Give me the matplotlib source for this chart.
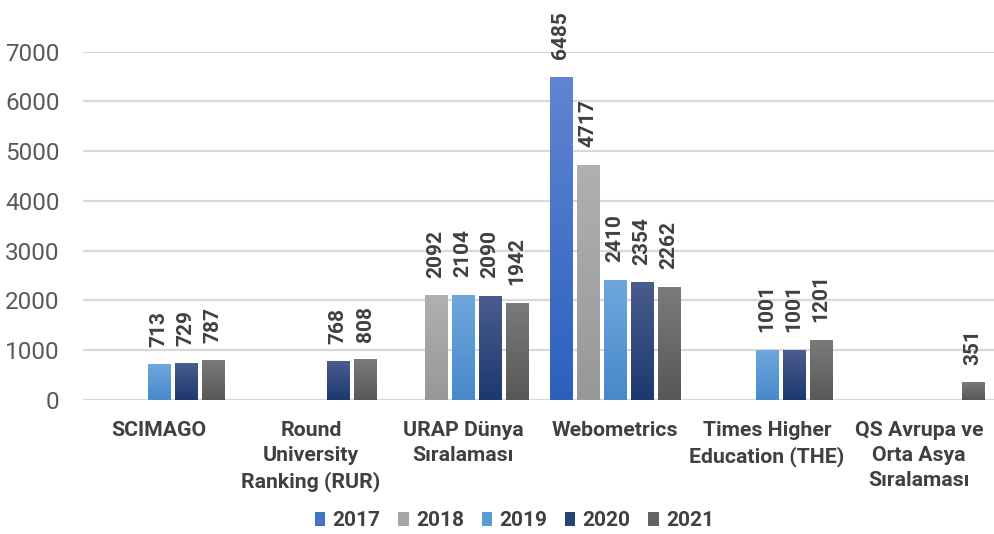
import numpy as np
import matplotlib.pyplot as plt
from matplotlib.colors import LinearSegmentedColormap
from matplotlib.patches import Patch

categories = ["SCIMAGO", "Round\nUniversity\nRanking (RUR)", "URAP Dünya\nSıralaması",
              "Webometrics", "Times Higher\nEducation (THE)", "QS Avrupa ve\nOrta Asya\nSıralaması"]
years = ["2017", "2018", "2019", "2020", "2021"]
nan = np.nan
v2017 = [nan, nan, nan, 6485, nan, nan]
v2018 = [nan, nan, 2092, 4717, nan, nan]
v2019 = [713, nan, 2104, 2410, 1001, nan]
v2020 = [729, 768, 2090, 2354, 1001, nan]
v2021 = [787, 808, 1942, 2262, 1201, 351]
series = [v2017, v2018, v2019, v2020, v2021]

# top / bottom colour of each series gradient
grad = [("#5f85d2", "#2d60be"),
        ("#b0b0b0", "#989898"),
        ("#6ea7de", "#4889ca"),
        ("#4a5c8c", "#1d3970"),
        ("#7a7a7a", "#585858")]
solid = ["#4472c4", "#a5a5a5", "#5b9bd5", "#264478", "#636363"]

plt.rcParams['font.family'] = ["Roboto", "DejaVu Sans"]

fig = plt.figure(figsize=(9.95, 5.34), dpi=100)
ax = fig.add_axes([83/995, 1-400/534, 1-83/995, (400-51.7)/534])

x = np.arange(len(categories))
pitch = 0.178
w = 0.145
g = np.linspace(1, 0, 64).reshape(-1, 1)
for i, vals in enumerate(series):
    cmap = LinearSegmentedColormap.from_list("c%d" % i, [grad[i][1], grad[i][0]])
    for xi, v in zip(x, vals):
        if np.isnan(v):
            continue
        xc = xi + (i - 2) * pitch
        ax.imshow(g, extent=[xc - w/2, xc + w/2, 0, v], aspect='auto', cmap=cmap,
                  vmin=0, vmax=1, zorder=3)
        ax.annotate(str(int(v)), (xc, v), xytext=(0, 18), textcoords='offset pixels',
                    rotation=90, ha='center', va='bottom', fontsize=15,
                    fontweight='bold', color='#404040', zorder=4)

ax.set_xlim(-0.5, len(categories) - 0.5)
ax.set_ylim(0, 7000)
ax.set_yticks(range(0, 7001, 1000))
ax.yaxis.grid(True, color='#d9d9d9', linewidth=1.6, zorder=0)
ax.set_axisbelow(True)
for s in ax.spines.values():
    s.set_visible(False)
ax.set_xticks(x)
ax.set_xticklabels(categories, fontsize=15.3, fontweight='bold', color='#404040',
                   linespacing=1.4)
ax.tick_params(axis='x', length=0, pad=15)
ax.tick_params(axis='y', length=0, pad=17, labelsize=17.5, labelcolor='#595959')

handles = [Patch(facecolor=c, edgecolor='none') for c in solid]
fig.legend(handles, years, loc='center', bbox_to_anchor=(0.517, 0.025), ncol=5,
           frameon=False, handlelength=0.5, handleheight=0.7, handletextpad=0.35,
           columnspacing=0.85, prop={'size': 15, 'weight': 'bold'},
           labelcolor='#404040')

fig.savefig("out.png", dpi=100)
